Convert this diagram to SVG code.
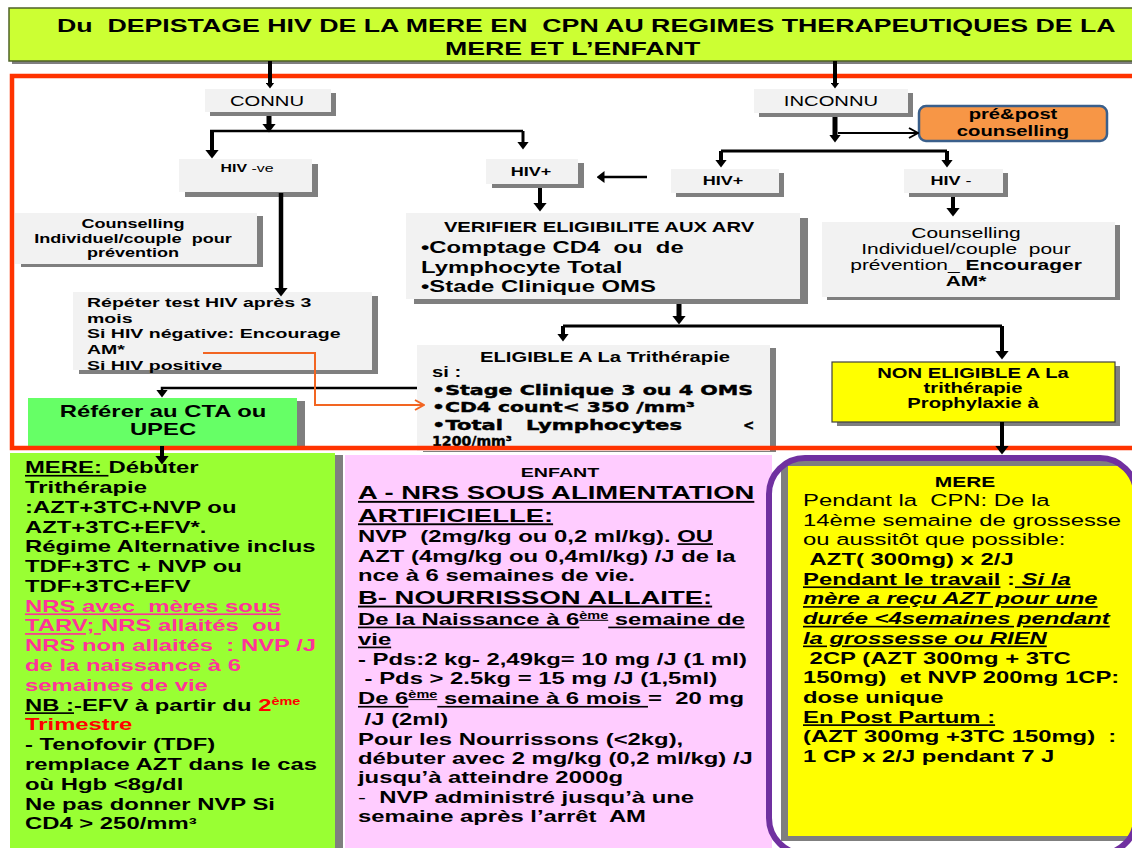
<svg xmlns="http://www.w3.org/2000/svg" width="1132" height="848" viewBox="0 0 1132 848">
<style>
text{font-family:"Liberation Sans",Arial,Helvetica,sans-serif;fill:#000}
.b{font-weight:bold}
.n{font-weight:normal}
.u{text-decoration:underline}
.it{font-style:italic}
.pk{fill:#FF3399}
.rd{fill:#FF0000}
.box{fill:#F2F2F2}
.sh{fill:#7F7F7F}
.ln{fill:none;stroke:#000}
.hv{font-family:"DejaVu Sans",Verdana,sans-serif;font-weight:bold;stroke:#000;stroke-width:0.4}
</style>
<defs>
<marker id="hb" markerUnits="userSpaceOnUse" viewBox="0 0 9 14" markerWidth="9" markerHeight="14" refX="0.5" refY="7" orient="auto"><path d="M0,0 L9,7 L0,14 Z"/></marker>
<marker id="hm" markerUnits="userSpaceOnUse" viewBox="0 0 8 12" markerWidth="8" markerHeight="12" refX="0.5" refY="6" orient="auto"><path d="M0,0 L8,6 L0,12 Z"/></marker>
<marker id="hs" markerUnits="userSpaceOnUse" viewBox="0 0 6 9" markerWidth="6" markerHeight="9" refX="0.5" refY="4.5" orient="auto"><path d="M0,0 L6,4.5 L0,9 Z"/></marker>
<marker id="op" markerUnits="userSpaceOnUse" viewBox="0 0 11 12" markerWidth="11" markerHeight="12" refX="10" refY="6" orient="auto"><path d="M1,1 L10,6 L1,11" fill="none" stroke="#000" stroke-width="2"/></marker>
<marker id="opo" markerUnits="userSpaceOnUse" viewBox="0 0 11 12" markerWidth="11" markerHeight="12" refX="10" refY="6" orient="auto"><path d="M1,1 L10,6 L1,11" fill="none" stroke="#F26522" stroke-width="2"/></marker>
<clipPath id="pc"><rect x="769" y="458" width="367" height="396" rx="36"/></clipPath>
</defs>

<!-- title banner -->
<g id="n-title">
<rect x="12" y="11" width="1130" height="53" class="sh"/>
<rect x="9" y="8" width="1130" height="53" fill="#CCFF33" stroke="#4F6228" stroke-width="1.5"/>
<text class="b" font-size="18.5" transform="matrix(1.445 0 0 1 57 0)"><tspan x="0" y="31.7">Du&#160; DEPISTAGE HIV DE LA MERE EN&#160; CPN AU REGIMES THERAPEUTIQUES DE LA</tspan></text>
<text class="b" font-size="18.5" transform="matrix(1.445 0 0 1 445 0)"><tspan x="0" y="55">MERE ET L’ENFANT</tspan></text>
</g>

<!-- upper flow boxes -->
<g id="n-connu">
<rect x="210" y="93" width="126" height="23" class="sh"/>
<rect x="205" y="89" width="126" height="23" class="box"/>
<text font-size="14" text-anchor="middle" transform="matrix(1.445 0 0 1 267 0)"><tspan x="0" y="106">CONNU</tspan></text>
</g>
<g id="n-inconnu">
<rect x="759" y="93" width="154" height="24" class="sh"/>
<rect x="754" y="89" width="154" height="24" class="box"/>
<text font-size="14" text-anchor="middle" transform="matrix(1.445 0 0 1 831 0)"><tspan x="0" y="106.5">INCONNU</tspan></text>
</g>
<g id="n-prepost">
<rect x="919" y="106" width="188" height="35" rx="7" fill="#F79646" stroke="#3A5F8B" stroke-width="2.5"/>
<text class="b" font-size="14" text-anchor="middle" transform="matrix(1.445 0 0 1 1013 0)"><tspan x="0" y="119.5">pré&amp;post</tspan><tspan x="0" y="136">counselling</tspan></text>
</g>
<g id="n-hivneg">
<rect x="185" y="164" width="133" height="33" class="sh"/>
<rect x="179" y="159" width="133" height="33" class="box"/>
<text font-size="11" text-anchor="middle" transform="matrix(1.445 0 0 1 247 0)"><tspan x="0" y="172"><tspan class="b">HIV</tspan> -ve</tspan></text>
</g>
<g id="n-hivpos-l">
<rect x="492" y="163" width="92" height="25" class="sh"/>
<rect x="486" y="159" width="92" height="25" class="box"/>
<text class="b" font-size="12.5" text-anchor="middle" transform="matrix(1.445 0 0 1 531 0)"><tspan x="0" y="176">HIV+</tspan></text>
</g>
<g id="n-hivpos-r">
<rect x="676" y="173" width="108" height="24" class="sh"/>
<rect x="671" y="169" width="108" height="24" class="box"/>
<text class="b" font-size="12.5" text-anchor="middle" transform="matrix(1.445 0 0 1 723 0)"><tspan x="0" y="185.5">HIV+</tspan></text>
</g>
<g id="n-hivneg-r">
<rect x="909" y="173" width="99" height="24" class="sh"/>
<rect x="904" y="169" width="99" height="24" class="box"/>
<text font-size="12.5" text-anchor="middle" transform="matrix(1.445 0 0 1 951 0)"><tspan x="0" y="185.5"><tspan class="b">HIV</tspan> -</tspan></text>
</g>
<g id="n-couns-l">
<rect x="21" y="216" width="242" height="51" class="sh"/>
<rect x="15" y="213" width="242" height="51" class="box"/>
<text class="b" font-size="12.5" text-anchor="middle" transform="matrix(1.445 0 0 1 133 0)"><tspan x="0" y="228.3">Counselling</tspan><tspan x="0" y="243">Individuel/couple&#160; pour</tspan><tspan x="0" y="257">prévention</tspan></text>
</g>
<g id="n-repeter">
<rect x="79" y="296" width="299" height="78" class="sh"/>
<rect x="73" y="292" width="299" height="78" class="box"/>
<text class="b" font-size="13.5" transform="matrix(1.445 0 0 1 87 0)"><tspan x="0" y="307.3">Répéter test HIV après 3</tspan><tspan x="0" y="322.7">mois</tspan><tspan x="0" y="338.3">Si HIV négative: Encourage</tspan><tspan x="0" y="354">AM*</tspan><tspan x="0" y="370">Si HIV positive</tspan></text>
</g>
<g id="n-referer">
<rect x="36" y="401" width="269" height="48" class="sh"/>
<rect x="28" y="398" width="269" height="48" fill="#66FF66"/>
<text class="b" font-size="16.5" text-anchor="middle" transform="matrix(1.445 0 0 1 163 0)"><tspan x="0" y="416.7">Référer au CTA ou</tspan><tspan x="0" y="435">UPEC</tspan></text>
</g>
<g id="n-verifier">
<rect x="414" y="218" width="394" height="86" class="sh"/>
<rect x="406" y="213" width="394" height="86" class="box"/>
<text class="b" font-size="14" text-anchor="middle" transform="matrix(1.445 0 0 1 599 0)"><tspan x="0" y="231.7">VERIFIER ELIGIBILITE AUX ARV</tspan></text>
<text class="b" font-size="16.5" transform="matrix(1.445 0 0 1 421 0)"><tspan x="0" y="253.3">•Comptage CD4&#160; ou&#160; de</tspan><tspan x="0" y="272.7">Lymphocyte Total</tspan><tspan x="0" y="291.7">•Stade Clinique OMS</tspan></text>
</g>
<g id="n-eligible">
<rect x="423" y="348" width="353" height="104" class="sh"/>
<rect x="417" y="345" width="353" height="106" class="box"/>
<text class="b" font-size="14" text-anchor="middle" transform="matrix(1.445 0 0 1 605 0)"><tspan x="0" y="361.7">ELIGIBLE A La Trithérapie</tspan></text>
<text class="b" font-size="14" transform="matrix(1.445 0 0 1 432 0)"><tspan x="0" y="376.7">si :</tspan></text>
<text class="hv" font-size="13.5" x="432" y="395" textLength="321" lengthAdjust="spacingAndGlyphs">•Stage Clinique 3 ou 4 OMS</text>
<text class="hv" font-size="13.5" x="432" y="412" textLength="263" lengthAdjust="spacingAndGlyphs">•CD4 count&lt; 350 /mm³</text>
<text class="hv" font-size="13.5" x="432" y="430" textLength="71" lengthAdjust="spacingAndGlyphs">•Total</text>
<text class="hv" font-size="13.5" x="526" y="430" textLength="156" lengthAdjust="spacingAndGlyphs">Lymphocytes</text>
<text class="hv" font-size="13.5" x="743" y="430">&lt;</text>
<text class="hv" font-size="13.5" x="432" y="445.5" textLength="80" lengthAdjust="spacingAndGlyphs">1200/mm³</text>
</g>
<g id="n-couns-r">
<rect x="827" y="225" width="293" height="75" class="sh"/>
<rect x="822" y="222" width="293" height="75" class="box"/>
<text font-size="14.5" text-anchor="middle" transform="matrix(1.445 0 0 1 966 0)"><tspan x="0" y="238.3">Counselling</tspan><tspan x="0" y="254">Individuel/couple&#160; pour</tspan><tspan x="0" y="270">prévention_ <tspan class="b">Encourager</tspan></tspan><tspan x="0" y="286" class="b">AM*</tspan></text>
</g>
<g id="n-noneligible">
<rect x="837" y="366" width="283" height="60" class="sh"/>
<rect x="832" y="362" width="283" height="60" fill="#FFFF00" stroke="#3F3F3F" stroke-width="1.2"/>
<text class="b" font-size="14" text-anchor="middle" transform="matrix(1.445 0 0 1 973 0)"><tspan x="0" y="378.5">NON ELIGIBLE A La</tspan><tspan x="0" y="393.5">trithérapie</tspan><tspan x="0" y="408.5">Prophylaxie à</tspan></text>
</g>

<!-- lower regimen columns -->
<g id="n-mere">
<rect x="335" y="455" width="8" height="400" class="sh"/>
<rect x="10" y="453" width="325" height="400" fill="#99FF33"/>
<text class="b" font-size="16.5" transform="matrix(1.445 0 0 1 25 0)">
<tspan x="0" y="473.3"><tspan class="u">MERE:&#160;</tspan>Débuter</tspan>
<tspan x="0" y="493.1">Trithérapie</tspan>
<tspan x="0" y="512.9">:AZT+3TC+NVP ou</tspan>
<tspan x="0" y="532.6">AZT+3TC+EFV*.</tspan>
<tspan x="0" y="552.4">Régime Alternative inclus</tspan>
<tspan x="0" y="572.2">TDF+3TC + NVP ou</tspan>
<tspan x="0" y="592">TDF+3TC+EFV</tspan>
<tspan x="0" y="611.8" class="pk u">NRS avec&#160; mères sous</tspan>
<tspan x="0" y="631.5" class="pk"><tspan class="u">TARV;&#160;</tspan>NRS allaités&#160; ou</tspan>
<tspan x="0" y="651.3" class="pk">NRS non allaités&#160; : NVP /J</tspan>
<tspan x="0" y="671.1" class="pk">de la naissance à 6</tspan>
<tspan x="0" y="690.9" class="pk">semaines de vie</tspan>
<tspan x="0" y="710.7"><tspan class="u">NB :</tspan>-EFV à partir du <tspan class="rd">2</tspan><tspan class="rd" font-size="10" dy="-6">ème</tspan></tspan>
<tspan x="0" y="730.4" class="rd">Trimestre</tspan>
<tspan x="0" y="750.2">- Tenofovir (TDF)</tspan>
<tspan x="0" y="770">remplace AZT dans le cas</tspan>
<tspan x="0" y="789.8">où Hgb &lt;8g/dl</tspan>
<tspan x="0" y="809.6">Ne pas donner NVP Si</tspan>
<tspan x="0" y="829.3">CD4 &gt; 250/mm³</tspan>
</text>
</g>
<g id="n-enfant">
<rect x="345" y="455" width="427" height="400" fill="#FFCCFF"/>
<text class="b" font-size="13.6" text-anchor="middle" transform="matrix(1.445 0 0 1 560 0)"><tspan x="0" y="477.3">ENFANT</tspan></text>
<text class="b" font-size="19" transform="matrix(1.445 0 0 1 358 0)"><tspan x="0" y="499.3" class="u">A - NRS SOUS ALIMENTATION</tspan><tspan x="0" y="521.7" class="u">ARTIFICIELLE:</tspan><tspan x="0" y="604" class="u">B- NOURRISSON ALLAITE:</tspan></text>
<text class="b" font-size="16.5" transform="matrix(1.445 0 0 1 358 0)">
<tspan x="0" y="541.7">NVP&#160; (2mg/kg ou 0,2 ml/kg). <tspan class="u">OU</tspan></tspan>
<tspan x="0" y="561.7">AZT (4mg/kg ou 0,4ml/kg) /J de la</tspan>
<tspan x="0" y="580.7">nce à 6 semaines de vie.</tspan>
<tspan x="0" y="625" class="u">De la Naissance à 6<tspan font-size="10" dy="-6">ème</tspan><tspan dy="6"> semaine de</tspan></tspan>
<tspan x="0" y="645" class="u">vie</tspan>
<tspan x="0" y="665">- Pds:2 kg- 2,49kg= 10 mg /J (1 ml)</tspan>
<tspan x="0" y="684.3">&#160;- Pds &gt; 2.5kg = 15 mg /J (1,5ml)</tspan>
<tspan x="0" y="704.3"><tspan class="u">De 6<tspan font-size="10" dy="-6">ème</tspan><tspan dy="6"> semaine à 6 mois&#160;</tspan></tspan>=&#160; 20 mg</tspan>
<tspan x="0" y="725">&#160;/J (2ml)</tspan>
<tspan x="0" y="745">Pour les Nourrissons (&lt;2kg),</tspan>
<tspan x="0" y="764">débuter avec 2 mg/kg (0,2 ml/kg) /J</tspan>
<tspan x="0" y="783.3">jusqu’à atteindre 2000g</tspan>
<tspan x="0" y="803.3"><tspan class="n">-</tspan>&#160; NVP administré jusqu’à une</tspan>
<tspan x="0" y="821.7">semaine après l’arrêt&#160; AM</tspan>
</text>
</g>
<g id="n-mere-tt">
<rect x="769" y="458" width="367" height="396" rx="36" fill="#FFFFFF"/>
<g clip-path="url(#pc)">
<rect x="781" y="461" width="360" height="380" class="sh"/>
<rect x="788" y="466" width="350" height="370" fill="#FFFF00"/>
</g>
<rect x="769" y="458" width="367" height="396" rx="36" fill="none" stroke="#7030A0" stroke-width="6"/>
<text class="b" font-size="14.5" text-anchor="middle" transform="matrix(1.445 0 0 1 965 0)"><tspan x="0" y="486.7">MERE</tspan></text>
<text font-size="16.5" transform="matrix(1.445 0 0 1 803 0)">
<tspan x="0" y="506">Pendant la&#160; CPN: De la</tspan>
<tspan x="0" y="525.7">14ème semaine de grossesse</tspan>
<tspan x="0" y="545.4">ou aussitôt que possible:</tspan>
<tspan x="0" y="565.1" class="b">&#160;AZT( 300mg) x 2/J</tspan>
<tspan x="0" y="584.8" class="b"><tspan class="u">Pendant le travail</tspan> :<tspan class="u it"> Si la</tspan></tspan>
<tspan x="0" y="604.5" class="b u it">mère a reçu AZT pour une</tspan>
<tspan x="0" y="624.2" class="b u it">durée &lt;4semaines pendant</tspan>
<tspan x="0" y="643.9" class="b u it">la grossesse ou RIEN</tspan>
<tspan x="0" y="663.6" class="b">&#160;2CP (AZT 300mg + 3TC</tspan>
<tspan x="0" y="683.3" class="b">150mg)&#160; et NVP 200mg 1CP:</tspan>
<tspan x="0" y="703" class="b">dose unique</tspan>
<tspan x="0" y="722.7" class="b u">En Post Partum :</tspan>
<tspan x="0" y="742.4" class="b">(AZT 300mg +3TC 150mg)&#160; :</tspan>
<tspan x="0" y="762.1" class="b">1 CP x 2/J pendant 7 J</tspan>
</text>
</g>

<!-- red frame around the screening flow -->
<g id="frame">
<rect x="12" y="76" width="1135" height="372" fill="none" stroke="#FF3300" stroke-width="4.5"/>
</g>

<!-- connectors -->
<g id="connectors" class="ln">
<path d="M270,61 V83" stroke-width="4" marker-end="url(#hs)"/>
<path d="M835,61 V83" stroke-width="4" marker-end="url(#hs)"/>
<path d="M269,116 V124" stroke-width="5" marker-end="url(#hb)"/>
<path d="M210,131 H523" stroke-width="2.5"/>
<path d="M212,131 V150" stroke-width="4" marker-end="url(#hb)"/>
<path d="M523,131 V142" stroke-width="3" marker-end="url(#hm)"/>
<path d="M540,188 V203" stroke-width="4" marker-end="url(#hb)"/>
<path d="M281,193 V288" stroke-width="4.5" marker-end="url(#hb)"/>
<path d="M647,177 H604" stroke-width="2.5" marker-end="url(#hm)"/>
<path d="M835,117 V135" stroke-width="5" marker-end="url(#hm)"/>
<path d="M838,133 H918" stroke-width="2" marker-end="url(#op)"/>
<path d="M721,151 H947" stroke-width="3"/>
<path d="M721,151 V160" stroke-width="4" marker-end="url(#hm)"/>
<path d="M947,151 V160" stroke-width="4" marker-end="url(#hm)"/>
<path d="M953,197 V208" stroke-width="4" marker-end="url(#hb)"/>
<path d="M679,304 V316" stroke-width="5" marker-end="url(#hb)"/>
<path d="M563,326 H1002" stroke-width="3"/>
<path d="M563,326 V334" stroke-width="4" marker-end="url(#hm)"/>
<path d="M1002,326 V351" stroke-width="4" marker-end="url(#hb)"/>
<path d="M417,388 H162 V390" stroke-width="2.5" marker-end="url(#hm)"/>
<path d="M203,353 H315 V405 H424" stroke="#F26522" stroke-width="2" marker-end="url(#opo)"/>
<path d="M1002,422 V446" stroke-width="4" marker-end="url(#hb)"/>
<path d="M162,446 V456" stroke-width="4" marker-end="url(#hb)"/>
</g>
</svg>
